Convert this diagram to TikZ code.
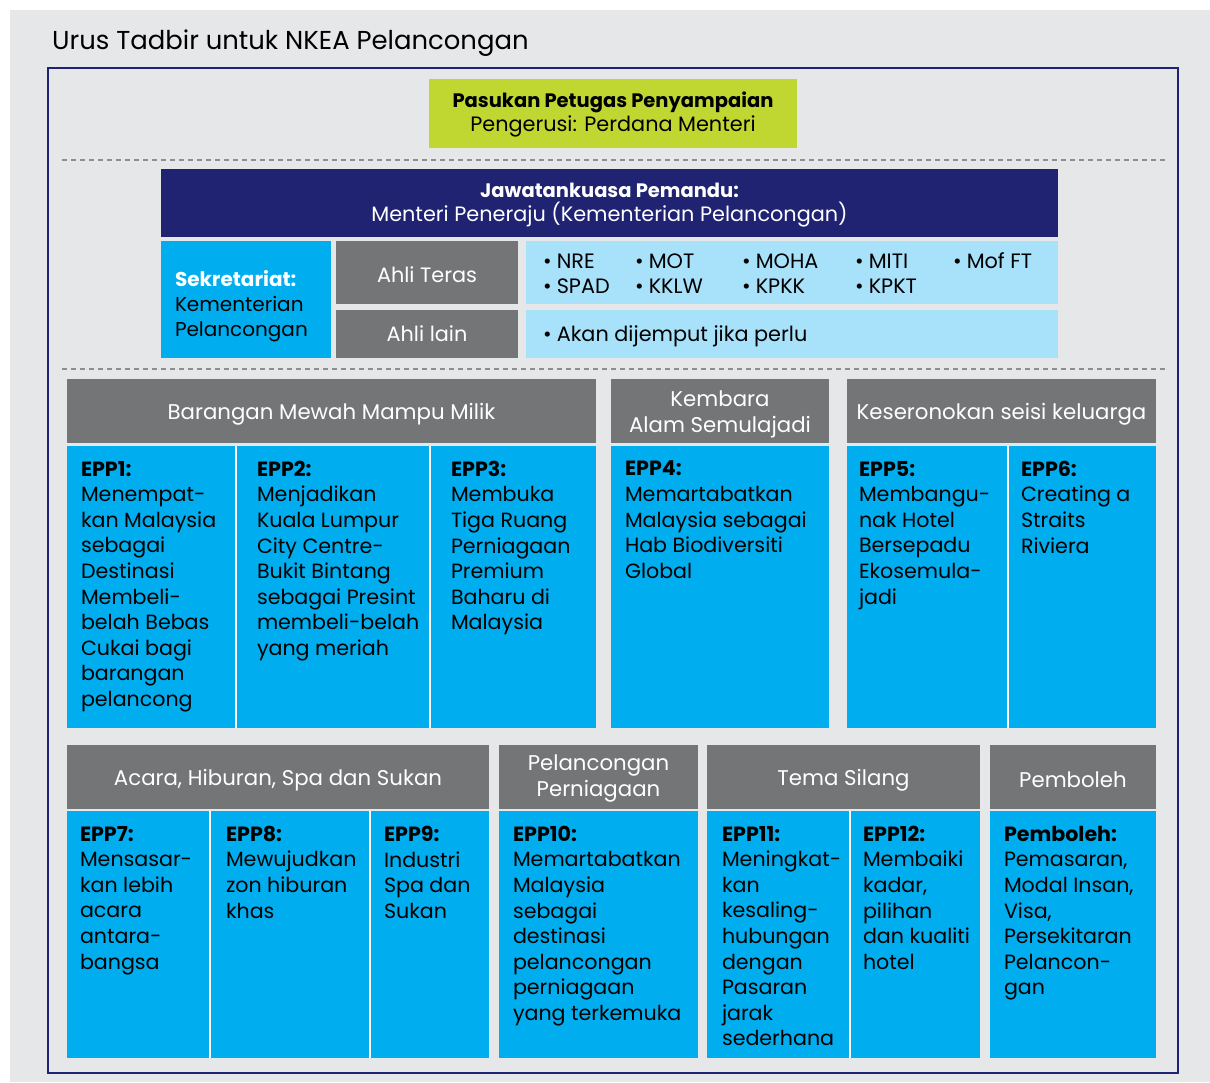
\documentclass[tikz,border=0pt]{standalone}
\usepackage{fontspec}
\setmainfont{Poppins}
\definecolor{bg}{HTML}{E6E7E9}
\definecolor{navy}{HTML}{1F2372}
\definecolor{lime}{HTML}{BFD730}
\definecolor{cyanb}{HTML}{00AEEF}
\definecolor{lblue}{HTML}{A8E1FA}
\definecolor{hgray}{HTML}{747577}
\definecolor{dgray}{HTML}{8E8E8E}
\newcommand\bodyfont{\fontsize{20.6}{25.6}\selectfont}
\newcommand\hdrfont{\fontsize{21.3}{26}\selectfont}
\newcommand\smfont{\fontsize{20.8}{25}\selectfont}
\newcommand\itemfont{\fontsize{20.8}{25}\selectfont}
\newcommand\bul{\textbullet\hspace{5pt}}
\tikzset{
  box/.style={draw=none, inner sep=0pt, outer sep=0pt, anchor=north west, rectangle},
  hdr/.style={box, fill=hgray},
  hdrtxt/.style={inner sep=0pt, text=white, font=\hdrfont, align=center},
  cell/.style={box, fill=cyanb},
  txt/.style={inner sep=0pt, outer sep=0pt, anchor=north west, align=left, font=\bodyfont, text=black},
  sepline/.style={draw=dgray, line width=1.4pt, dash pattern=on 5pt off 4pt},
  divider/.style={draw=white, line width=2pt},
  item/.style={inner sep=0pt, anchor=base west, font=\itemfont, text=black},
}
\begin{document}
\begin{tikzpicture}[x=1pt,y=-1pt]
\useasboundingbox (0,0) rectangle (1210,1082);
\fill[white] (0,0) rectangle (1210,1082);
\fill[bg] (10,10) rectangle (1210,1082);
\node[inner sep=0pt, anchor=base west, font=\fontsize{25.9}{32}\selectfont] (title) at (52,49) {Urus Tadbir untuk NKEA Pelancongan};
\draw[navy, line width=2.6pt, fill=bg] (48,68) rectangle (1178,1073);

% top
\node[box, fill=lime, minimum width=368pt, minimum height=69pt] (ptf) at (429,79) {};
\node[inner sep=0pt, font=\smfont, align=center] (ptft) at ([yshift=-1pt]ptf.center) {{\fontsize{19.5}{25}\selectfont\textbf{Pasukan Petugas Penyampaian}}\\[-1pt]Pengerusi: Perdana Menteri};
\draw[sepline] (62,160) -- (1167,160);
\node[box, fill=navy, minimum width=897pt, minimum height=68pt] (jp) at (161,169) {};
\node[inner sep=0pt, text=white, font=\smfont, align=center] (jpt) at ([yshift=-2pt]jp.center) {{\fontsize{19.5}{25}\selectfont\textbf{Jawatankuasa Pemandu:}}\\[-1pt]Menteri Peneraju (Kementerian Pelancongan)};
\node[box, fill=cyanb, minimum width=170pt, minimum height=117pt] (sek) at (161,241) {};
\node[txt, font=\fontsize{20}{25}\selectfont] (sekt) at (175,270) {\textcolor{white}{\textbf{Sekretariat:}}\\Kementerian\\Pelancongan};
\node[box, fill=hgray, minimum width=182pt, minimum height=63pt] (at) at (336,241) {};
\node[inner sep=0pt, text=white, font=\smfont] (att) at ([yshift=-2pt]at.center) {Ahli Teras};
\node[box, fill=hgray, minimum width=182pt, minimum height=48pt] (al) at (336,310) {};
\node[inner sep=0pt, text=white, font=\smfont] (alt) at (al.center) {Ahli lain};
\node[box, fill=lblue, minimum width=532pt, minimum height=63pt] (lbt) at (526,241) {};
\node[box, fill=lblue, minimum width=532pt, minimum height=48pt] (lbl) at (526,310) {};
\node[item] (i1) at (543,268) {\bul NRE};
\node[item] (i2) at (635,268) {\bul MOT};
\node[item] (i3) at (742,268) {\bul MOHA};
\node[item] (i4) at (855,268) {\bul MITI};
\node[item] (i5) at (953,268) {\bul Mof FT};
\node[item] (i6) at (543,293) {\bul SPAD};
\node[item] (i7) at (635,293) {\bul KKLW};
\node[item] (i8) at (742,293) {\bul KPKK};
\node[item] (i9) at (855,293) {\bul KPKT};
\node[item] (i10) at (543,341) {\bul Akan dijemput jika perlu};
\draw[sepline] (62,369) -- (1167,369);

% row 1 headers
\node[hdr, minimum width=529pt, minimum height=64pt] (h1) at (67,379) {};
\node[hdr, minimum width=218pt, minimum height=64pt] (h2) at (611,379) {};
\node[hdr, minimum width=309pt, minimum height=64pt] (h3) at (847,379) {};
\node[hdrtxt] (h1t) at ([yshift=-3pt]h1.center) {Barangan Mewah Mampu Milik};
\node[hdrtxt] (h2t) at ([yshift=-3pt]h2.center) {Kembara\\Alam Semulajadi};
\node[hdrtxt] (h3t) at ([yshift=-3pt]h3.center) {Keseronokan seisi keluarga};
% row 1 cells
\node[cell, minimum width=169pt, minimum height=282pt] (e1) at (67,446) {};
\node[cell, minimum width=194pt, minimum height=282pt] (e2) at (236,446) {};
\node[cell, minimum width=166pt, minimum height=282pt] (e3) at (430,446) {};
\node[cell, minimum width=218pt, minimum height=282pt] (e4) at (611,446) {};
\node[cell, minimum width=161pt, minimum height=282pt] (e5) at (847,446) {};
\node[cell, minimum width=148pt, minimum height=282pt] (e6) at (1008,446) {};
\draw[divider] (e1.north east) -- (e1.south east);
\draw[divider] (e2.north east) -- (e2.south east);
\draw[divider] (e5.north east) -- (e5.south east);
\node[txt] (t1) at (81,461) {\textbf{EPP1:}\\Menempat-\\kan Malaysia\\sebagai\\Destinasi\\Membeli-\\belah Bebas\\Cukai bagi\\barangan\\pelancong};
\node[txt] (t2) at (257,461) {\textbf{EPP2:}\\Menjadikan\\Kuala Lumpur\\City Centre-\\Bukit Bintang\\sebagai Presint\\membeli-belah\\yang meriah};
\node[txt] (t3) at (451,461) {\textbf{EPP3:}\\Membuka\\Tiga Ruang\\Perniagaan\\Premium\\Baharu di\\Malaysia};
\node[txt] (t4) at (625,461) {\textbf{EPP4:}\\Memartabatkan\\Malaysia sebagai\\Hab Biodiversiti\\Global};
\node[txt] (t5) at (859,461) {\textbf{EPP5:}\\Membangu-\\nak Hotel\\Bersepadu\\Ekosemula-\\jadi};
\node[txt] (t6) at (1021,461) {\textbf{EPP6:}\\Creating a\\Straits\\Riviera};

% row 2 headers
\node[hdr, minimum width=422pt, minimum height=64pt] (g1) at (67,745) {};
\node[hdr, minimum width=199pt, minimum height=64pt] (g2) at (499,745) {};
\node[hdr, minimum width=273pt, minimum height=64pt] (g3) at (707,745) {};
\node[hdr, minimum width=166pt, minimum height=64pt] (g4) at (990,745) {};
\node[hdrtxt] (g1t) at ([yshift=-3pt]g1.center) {Acara, Hiburan, Spa dan Sukan};
\node[hdrtxt] (g2t) at ([yshift=-1pt]g2.center) {Pelancongan\\Perniagaan};
\node[hdrtxt] (g3t) at ([yshift=-3pt]g3.center) {Tema Silang};
\node[hdrtxt] (g4t) at ([yshift=-3pt]g4.center) {Pemboleh};
% row 2 cells
\node[cell, minimum width=143pt, minimum height=247pt] (e7) at (67,811) {};
\node[cell, minimum width=160pt, minimum height=247pt] (e8) at (210,811) {};
\node[cell, minimum width=119pt, minimum height=247pt] (e9) at (370,811) {};
\node[cell, minimum width=199pt, minimum height=247pt] (e10) at (499,811) {};
\node[cell, minimum width=143pt, minimum height=247pt] (e11) at (707,811) {};
\node[cell, minimum width=130pt, minimum height=247pt] (e12) at (850,811) {};
\node[cell, minimum width=166pt, minimum height=247pt] (ep) at (990,811) {};
\draw[divider] (e7.north east) -- (e7.south east);
\draw[divider] (e8.north east) -- (e8.south east);
\draw[divider] (e11.north east) -- (e11.south east);
\node[txt] (t7) at (80,826) {\textbf{EPP7:}\\Mensasar-\\kan lebih\\acara\\antara-\\bangsa};
\node[txt] (t8) at (226,826) {\textbf{EPP8:}\\Mewujudkan\\zon hiburan\\khas};
\node[txt] (t9) at (384,826) {\textbf{EPP9:}\\Industri\\Spa dan\\Sukan};
\node[txt] (t10) at (513,826) {\textbf{EPP10:}\\Memartabatkan\\Malaysia\\sebagai\\destinasi\\pelancongan\\perniagaan\\yang terkemuka};
\node[txt] (t11) at (722,826) {\textbf{EPP11:}\\Meningkat-\\kan\\kesaling-\\hubungan\\dengan\\Pasaran\\jarak\\sederhana};
\node[txt] (t12) at (863,826) {\textbf{EPP12:}\\Membaiki\\kadar,\\pilihan\\dan kualiti\\hotel};
\node[txt] (tp) at (1004,826) {\textbf{Pemboleh:}\\Pemasaran,\\Modal Insan,\\Visa,\\Persekitaran\\Pelancon-\\gan};
\end{tikzpicture}
\end{document}
